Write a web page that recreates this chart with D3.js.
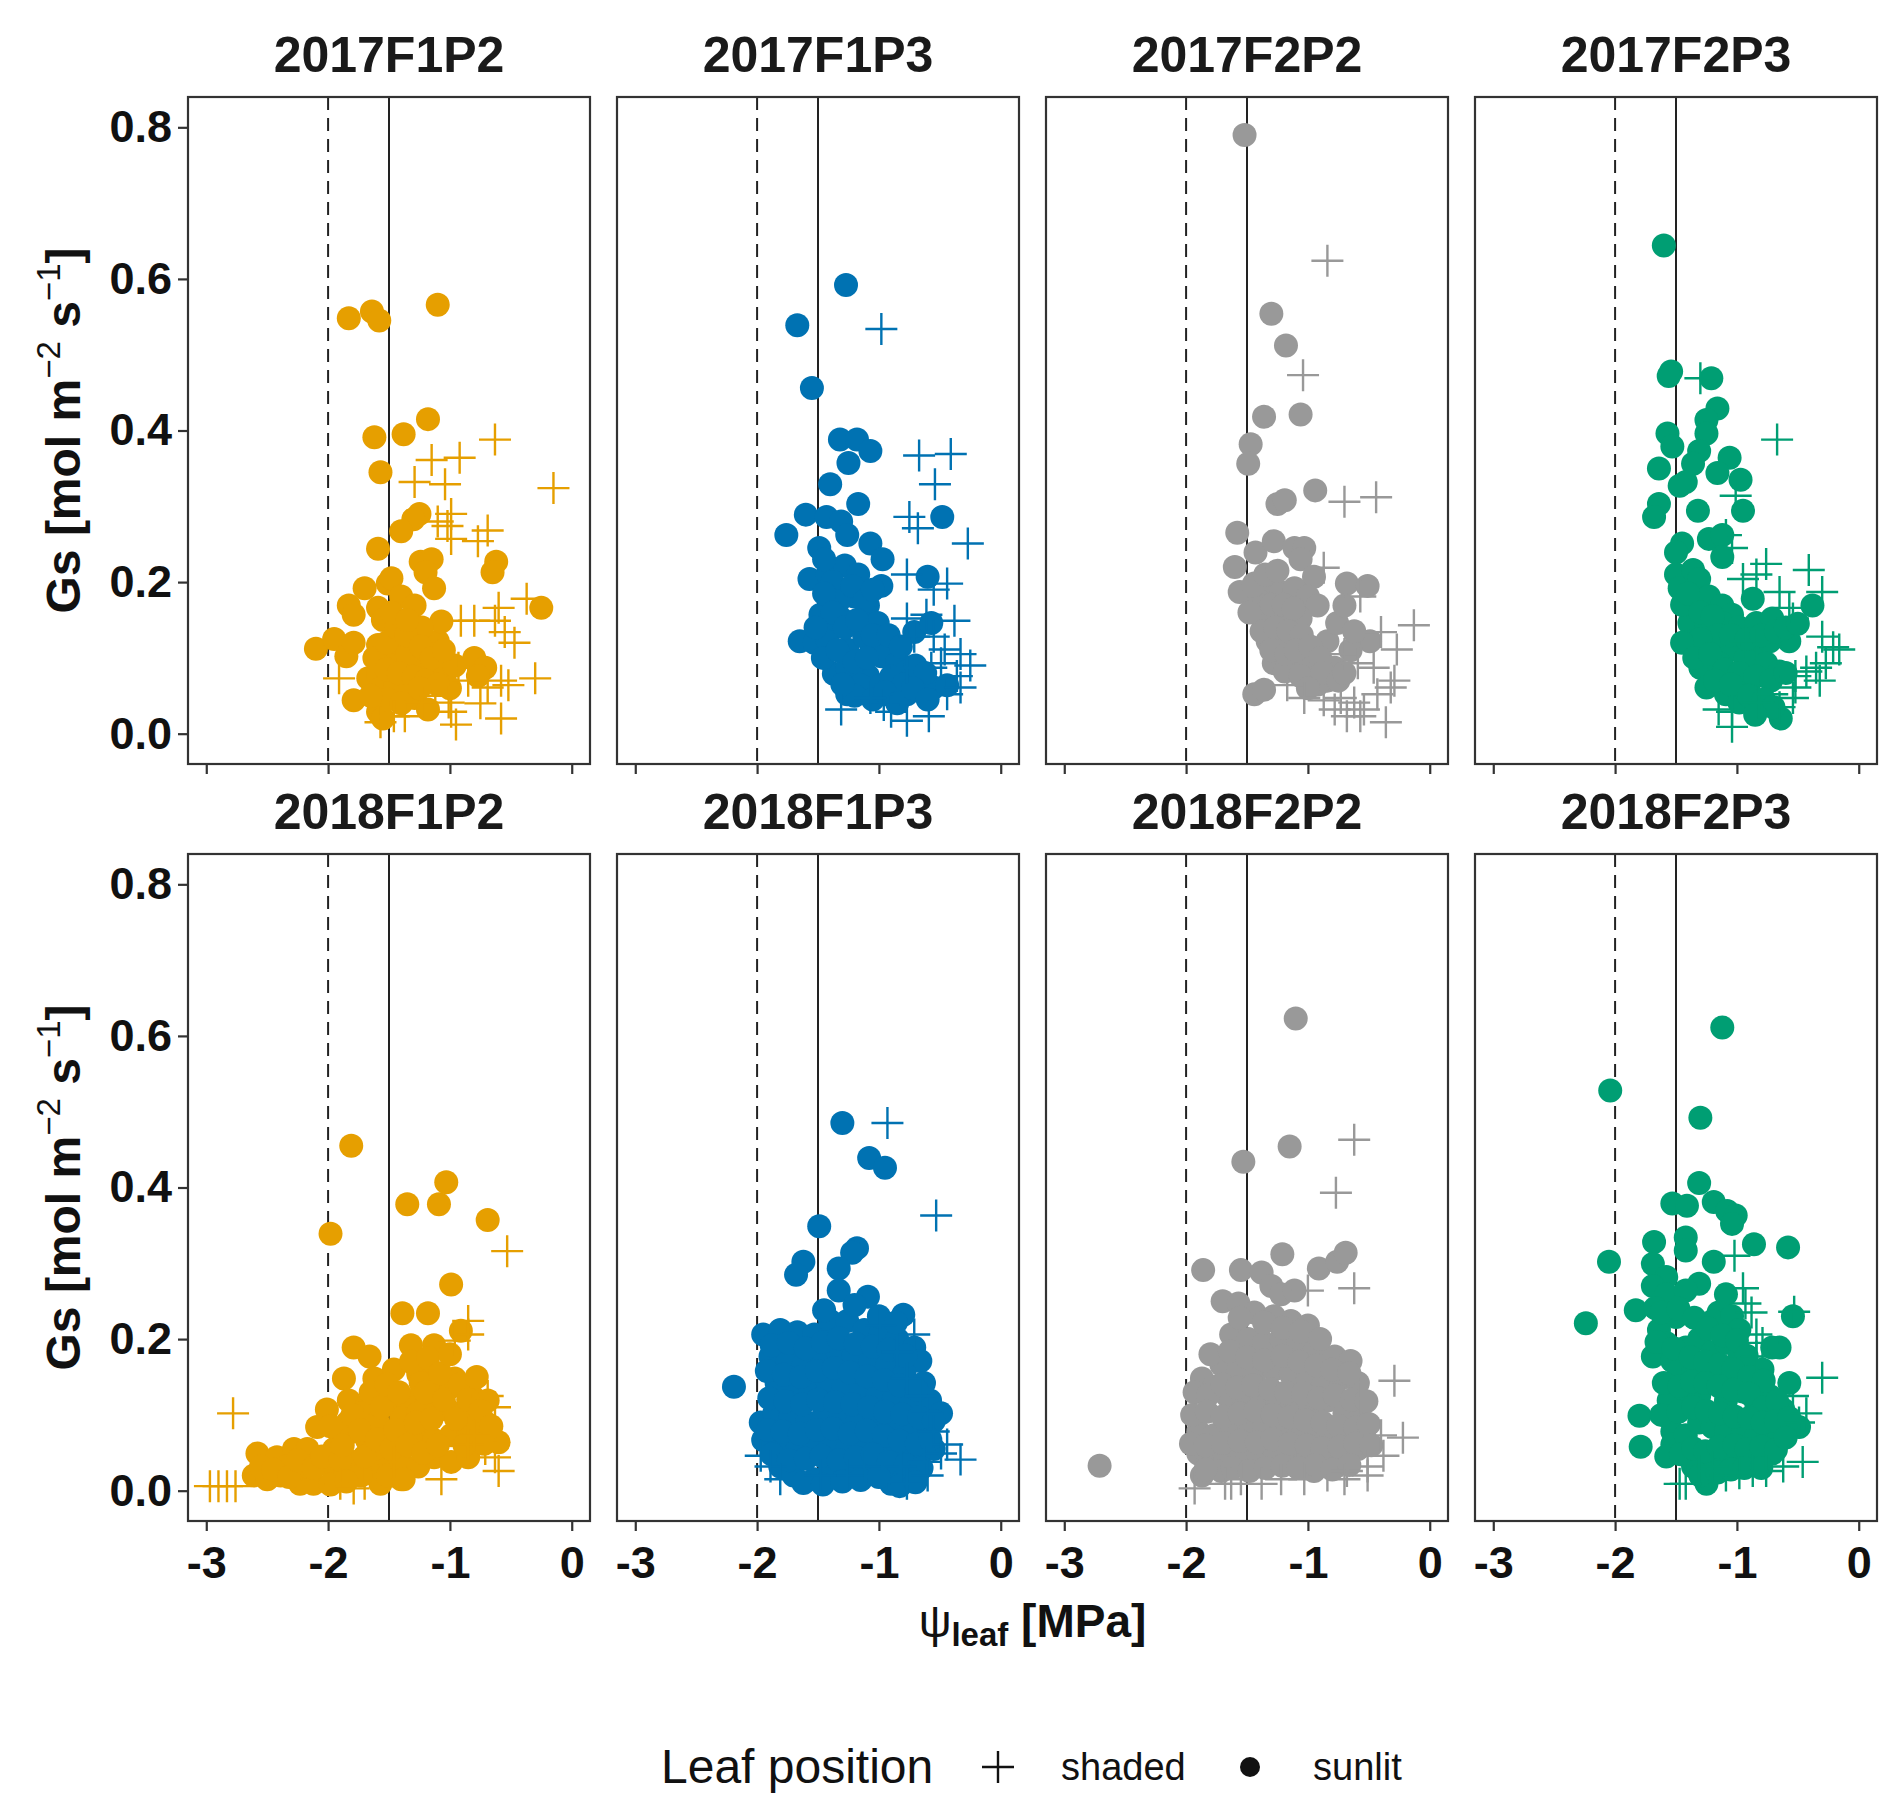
<!DOCTYPE html>
<html>
<head>
<meta charset="utf-8">
<script src="https://cdn.jsdelivr.net/npm/d3@7"></script>
<style>
  body { margin: 0; background: #fff; }
  text { font-family: "Liberation Sans", Arial, sans-serif; }
</style>
</head>
<body>
<script>
// facet titles, colours and ticks
var panelTitles = ["2017F1P2", "2017F1P3", "2017F2P2", "2017F2P3",
                   "2018F1P2", "2018F1P3", "2018F2P2", "2018F2P3"];
var panelColors = ["#E69F00", "#0072B2", "#999999", "#009E73",
                   "#E69F00", "#0072B2", "#999999", "#009E73"];
var xTicks = [-3, -2, -1, 0];
var yTicks = [0, 0.2, 0.4, 0.6, 0.8];
var refDashed = -2, refSolid = -1.5;

// [psi_leaf (MPa), Gs (mol m-2 s-1)]
var sunlit17F1P2 = [[-1.83,0.548],[-1.64,0.557],[-1.58,0.545],[-1.10,0.566],[-1.18,0.415],[-1.62,0.391],[-1.38,0.395],[-1.57,0.345],[-1.25,0.290],[-1.30,0.283],[-1.40,0.267],[-1.59,0.244],[-1.24,0.227],[-1.15,0.230],[-1.20,0.213],[-1.13,0.192],[-0.62,0.227],[-0.65,0.213],[-0.25,0.166],[-1.70,0.192],[-1.51,0.198],[-1.48,0.205],[-1.83,0.169],[-1.79,0.157],[-1.59,0.166],[-1.40,0.181],[-1.29,0.169],[-1.55,0.150],[-2.10,0.112],[-1.95,0.125],[-1.85,0.102],[-1.79,0.120],[-1.59,0.117],[-1.48,0.108],[-1.40,0.117],[-1.29,0.111],[-1.19,0.099],[-1.10,0.122],[-1.07,0.148],[-1.23,0.140],[-1.67,0.073],[-1.59,0.079],[-1.48,0.090],[-1.37,0.085],[-1.26,0.090],[-1.15,0.079],[-1.04,0.079],[-0.96,0.090],[-1.79,0.044],[-1.59,0.029],[-1.29,0.047],[-1.18,0.032],[-1.59,0.058],[-1.45,0.065],[-1.33,0.060],[-0.80,0.100],[-0.71,0.087],[-0.77,0.076],[-1.55,0.020],[-1.35,0.105],[-1.00,0.060],
  [-1.62,0.100],[-1.52,0.120],[-1.44,0.140],[-1.36,0.130],[-1.24,0.115],[-1.15,0.100],[-1.05,0.110],[-1.52,0.085],[-1.42,0.080],[-1.30,0.075],[-1.20,0.070],[-1.10,0.065],[-1.52,0.045],[-1.40,0.040],[-1.25,0.060],[-1.48,0.160],[-1.35,0.150],[-1.65,0.050]];
var shaded17F1P2 = [[-0.63,0.388],[-1.15,0.361],[-0.92,0.364],[-1.29,0.332],[-1.04,0.329],[-0.15,0.324],[-0.99,0.290],[-1.10,0.280],[-1.02,0.274],[-0.99,0.257],[-0.77,0.254],[-0.69,0.268],[-0.37,0.178],[-0.60,0.166],[-0.63,0.149],[-0.55,0.134],[-0.47,0.120],[-0.91,0.149],[-0.80,0.149],[-0.30,0.073],[-0.69,0.061],[-0.58,0.070],[-0.52,0.064],[-0.93,0.087],[-0.85,0.070],[-0.58,0.020],[-0.95,0.012],[-0.99,0.029],[-1.37,0.023],[-1.23,0.041],[-1.01,0.041],[-1.91,0.073],[-1.57,0.015],[-1.46,0.023],[-1.12,0.050],[-0.75,0.040]];

var sunlit17F1P3 = [[-1.27,0.592],[-1.67,0.539],[-1.55,0.456],[-1.32,0.388],[-1.18,0.388],[-1.07,0.373],[-1.25,0.357],[-1.40,0.329],[-1.17,0.303],[-1.60,0.289],[-1.43,0.286],[-1.31,0.280],[-1.26,0.262],[-1.76,0.262],[-1.49,0.245],[-1.07,0.251],[-0.97,0.230],[-0.48,0.286],[-0.60,0.207],[-1.57,0.204],[-1.42,0.210],[-1.28,0.222],[-1.17,0.210],[-1.20,0.181],[-0.98,0.195],[-1.48,0.157],[-1.31,0.152],[-1.39,0.140],[-1.09,0.169],[-1.01,0.146],[-1.65,0.122],[-1.53,0.120],[-1.42,0.122],[-1.26,0.111],[-1.12,0.128],[-0.98,0.117],[-1.37,0.079],[-1.26,0.087],[-1.09,0.076],[-0.98,0.102],[-0.85,0.093],[-0.77,0.082],[-0.68,0.070],[-1.26,0.052],[-1.15,0.064],[-0.98,0.064],[-0.87,0.058],[-0.77,0.052],[-0.66,0.064],[-0.55,0.061],[-0.44,0.064],[-0.71,0.134],[-0.57,0.146],
  [-1.45,0.230],[-1.38,0.200],[-1.33,0.175],[-1.22,0.195],[-1.12,0.175],[-1.05,0.190],[-1.45,0.185],[-1.38,0.160],[-1.52,0.140],[-1.28,0.140],[-1.18,0.150],[-1.05,0.130],[-0.92,0.130],[-0.82,0.115],[-1.46,0.100],[-1.34,0.110],[-1.20,0.095],[-1.10,0.100],[-0.90,0.075],[-0.80,0.065],[-0.70,0.090],[-0.62,0.080],[-1.20,0.050],[-1.05,0.045],[-0.95,0.055],[-0.85,0.040],[-0.72,0.060],[-0.60,0.045],[-1.30,0.065]];
var shaded17F1P3 = [[-0.98,0.534],[-0.67,0.367],[-0.41,0.369],[-0.54,0.329],[-0.75,0.286],[-0.68,0.271],[-0.27,0.251],[-0.77,0.210],[-0.55,0.190],[-0.44,0.198],[-0.77,0.152],[-0.61,0.157],[-0.38,0.149],[-0.71,0.128],[-0.55,0.128],[-0.46,0.111],[-0.33,0.105],[-0.25,0.090],[-0.36,0.076],[-0.49,0.093],[-1.31,0.032],[-0.96,0.038],[-0.90,0.029],[-0.77,0.017],[-0.59,0.023],[-0.44,0.052],[-0.33,0.061],[-1.07,0.047],[-0.57,0.087],[-0.77,0.087]];

var sunlit17F2P2 = [[-1.52,0.790],[-1.30,0.554],[-1.18,0.512],[-1.36,0.418],[-1.06,0.421],[-1.47,0.382],[-1.49,0.356],[-1.25,0.303],[-1.19,0.308],[-0.94,0.321],[-1.58,0.265],[-1.43,0.239],[-1.28,0.254],[-1.11,0.245],[-1.03,0.245],[-1.06,0.230],[-1.60,0.220],[-0.95,0.207],[-1.56,0.187],[-1.44,0.198],[-1.33,0.192],[-1.22,0.187],[-1.11,0.192],[-1.00,0.181],[-0.92,0.169],[-0.68,0.198],[-0.51,0.195],[-1.36,0.152],[-1.22,0.157],[-1.06,0.152],[-1.33,0.122],[-1.22,0.117],[-1.08,0.122],[-1.28,0.093],[-1.14,0.099],[-1.03,0.087],[-0.84,0.122],[-0.76,0.146],[-0.70,0.169],[-0.49,0.122],[-0.95,0.076],[-0.84,0.070],[-0.78,0.087],[-1.44,0.052],[-1.36,0.058],[-1.19,0.082],[-1.06,0.076],
  [-1.40,0.175],[-1.30,0.170],[-1.20,0.170],[-1.12,0.165],[-1.38,0.135],[-1.27,0.140],[-1.16,0.135],[-1.05,0.130],[-1.30,0.110],[-1.18,0.105],[-1.10,0.110],[-0.98,0.115],[-0.90,0.100],[-0.92,0.065],[-0.88,0.080],[-0.75,0.070],[-0.70,0.080],[-0.65,0.110],[-0.62,0.135],[-1.00,0.060],[-1.48,0.160],[-1.45,0.195],[-1.35,0.210],[-1.25,0.215]];
var shaded17F2P2 = [[-0.84,0.624],[-1.04,0.473],[-0.70,0.306],[-0.44,0.312],[-0.87,0.219],[-0.57,0.181],[-0.13,0.143],[-0.40,0.134],[-0.27,0.111],[-0.70,0.105],[-0.59,0.093],[-0.46,0.087],[-0.29,0.070],[-1.17,0.064],[-1.03,0.047],[-0.87,0.044],[-0.73,0.047],[-0.62,0.041],[-0.54,0.032],[-0.43,0.052],[-0.32,0.061],[-0.36,0.015],[-0.78,0.032],[-0.68,0.023],[-0.57,0.023]];

var sunlit17F2P3 = [[-1.60,0.644],[-1.54,0.478],[-1.56,0.472],[-1.21,0.469],[-1.16,0.429],[-1.25,0.414],[-1.25,0.396],[-1.57,0.396],[-1.53,0.379],[-1.64,0.350],[-1.31,0.373],[-1.36,0.356],[-1.42,0.332],[-1.47,0.327],[-1.06,0.364],[-1.16,0.344],[-0.97,0.335],[-1.64,0.303],[-1.68,0.286],[-1.32,0.294],[-0.95,0.294],[-1.45,0.251],[-1.50,0.239],[-1.23,0.257],[-1.12,0.262],[-1.12,0.233],[-1.50,0.210],[-1.47,0.192],[-1.36,0.216],[-1.31,0.204],[-1.36,0.175],[-1.23,0.181],[-1.12,0.169],[-1.04,0.157],[-0.87,0.178],[-1.39,0.146],[-1.25,0.140],[-1.12,0.146],[-0.98,0.140],[-0.84,0.146],[-0.71,0.152],[-0.57,0.122],[-0.38,0.169],[-1.36,0.122],[-1.20,0.117],[-1.04,0.111],[-0.87,0.111],[-0.73,0.122],[-1.30,0.087],[-1.15,0.093],[-0.93,0.099],[-0.76,0.093],[-0.65,0.082],[-1.25,0.061],[-1.09,0.052],[-0.98,0.041],[-0.93,0.058],[-0.64,0.020],
  [-1.45,0.170],[-1.40,0.185],[-1.30,0.160],[-1.20,0.155],[-1.15,0.130],[-1.30,0.125],[-1.45,0.120],[-1.05,0.130],[-0.92,0.125],[-0.80,0.130],[-0.68,0.135],[-0.60,0.140],[-0.50,0.145],[-1.35,0.100],[-1.22,0.105],[-1.10,0.085],[-0.98,0.080],[-0.85,0.075],[-0.72,0.070],[-0.60,0.080],[-1.18,0.070],[-1.05,0.065],[-0.90,0.050],[-0.78,0.045],[-0.70,0.035],[-0.85,0.025]];
var shaded17F2P3 = [[-1.30,0.469],[-0.67,0.388],[-1.01,0.314],[-1.09,0.262],[-1.04,0.245],[-0.76,0.224],[-0.84,0.210],[-0.41,0.216],[-0.30,0.187],[-0.65,0.187],[-0.57,0.166],[-0.54,0.152],[-0.95,0.204],[-0.93,0.122],[-0.84,0.117],[-0.30,0.128],[-0.21,0.114],[-0.16,0.111],[-0.27,0.093],[-0.35,0.087],[-0.43,0.082],[-0.52,0.076],[-0.32,0.070],[-1.15,0.032],[-1.04,0.029],[-0.82,0.041],[-0.71,0.052],[-0.54,0.047],[-0.65,0.035],[-0.52,0.061],[-1.04,0.009]];

var sunlit18F1P2 = [[-1.81,0.455],[-1.98,0.339],[-1.35,0.378],[-1.09,0.378],[-1.03,0.407],[-0.69,0.357],[-0.99,0.272],[-1.39,0.234],[-1.18,0.234],[-0.91,0.211],[-1.79,0.189],[-1.66,0.177],[-1.32,0.192],[-1.13,0.192],[-1.87,0.148],[-1.83,0.119],[-2.01,0.107],[-2.09,0.084],[-1.62,0.148],[-1.46,0.160],[-1.26,0.154],[-1.13,0.154],[-0.96,0.148],[-0.82,0.125],[-0.69,0.119],[-1.68,0.113],[-1.51,0.119],[-1.35,0.119],[-1.18,0.113],[-1.02,0.107],[-0.88,0.102],[-0.60,0.064],[-2.58,0.049],[-2.42,0.044],[-2.28,0.055],[-2.17,0.055],[-2.61,0.020],[-2.50,0.015],[-2.39,0.020],[-2.23,0.009],[-2.12,0.009],[-1.95,0.020],[-1.90,0.073],[-1.79,0.078],[-1.68,0.067],[-1.54,0.073],[-1.40,0.067],[-1.26,0.078],[-1.13,0.067],[-0.99,0.073],[-0.85,0.078],[-1.79,0.038],[-1.62,0.032],[-1.46,0.020],[-1.57,0.009],[-1.40,0.015],[-2.17,0.032],[-2.34,0.032],[-1.13,0.131],[-0.99,0.137],[-1.24,0.142],[-1.95,0.055],[-1.84,0.090],[-1.73,0.102],[-1.59,0.090],[-1.51,0.044],[-1.62,0.055],[-1.73,0.020],[-1.51,0.020],[-1.40,0.038],[-1.26,0.032],[-1.13,0.044],[-0.99,0.038],[-0.85,0.044],[-0.71,0.090],[-0.80,0.096],[-1.40,0.096],[-1.26,0.102],
  [-2.55,0.032],[-2.45,0.028],[-2.32,0.018],[-2.25,0.040],[-2.12,0.030],[-2.05,0.045],[-1.98,0.008],[-1.90,0.040],[-1.85,0.012],[-1.98,0.085],[-1.88,0.060],[-1.80,0.100],[-1.74,0.080],[-1.70,0.045],[-1.65,0.130],[-1.60,0.068],[-1.56,0.110],[-1.52,0.140],[-1.48,0.055],[-1.45,0.080],[-1.42,0.130],[-1.38,0.015],[-1.35,0.060],[-1.32,0.170],[-1.28,0.090],[-1.22,0.050],[-1.20,0.130],[-1.18,0.175],[-1.15,0.095],[-1.10,0.060],[-1.08,0.155],[-1.05,0.120],[-1.00,0.180],[-0.95,0.095],[-0.92,0.140],[-0.88,0.060],[-0.85,0.120],[-0.78,0.150],[-0.75,0.105],[-0.72,0.062],[-0.66,0.085]];
var shaded18F1P2 = [[-2.78,0.102],[-2.97,0.006],[-2.90,0.006],[-2.83,0.006],[-2.76,0.006],[-0.53,0.316],[-0.85,0.224],[-0.85,0.206],[-0.96,0.198],[-0.69,0.125],[-0.63,0.110],[-0.85,0.061],[-0.71,0.055],[-0.63,0.044],[-0.60,0.026],[-0.80,0.073],[-1.07,0.015],[-1.46,0.038],[-1.70,0.009],[-1.90,0.009],[-1.79,0.003]];

var sunlit18F1P3 = [[-1.30,0.485],[-1.08,0.439],[-0.95,0.426],[-1.49,0.349],[-1.18,0.320],[-1.22,0.314],[-1.62,0.302],[-1.68,0.285],[-1.33,0.293],[-1.33,0.264],[-1.09,0.256],[-2.19,0.137],[-0.80,0.232],[-1.95,0.206],[-1.81,0.212],[-1.67,0.209],[-1.53,0.206],[-1.40,0.224],[-1.26,0.224],[-1.12,0.212],[-0.99,0.206],[-0.85,0.200],[-0.71,0.189],[-0.66,0.171],[-1.89,0.177],[-1.75,0.171],[-1.62,0.166],[-1.48,0.177],[-1.34,0.183],[-1.21,0.177],[-1.07,0.171],[-0.93,0.166],[-0.79,0.154],[-0.63,0.142],[-1.84,0.142],[-1.70,0.137],[-1.56,0.131],[-1.42,0.142],[-1.29,0.137],[-1.15,0.137],[-1.01,0.125],[-0.88,0.119],[-0.74,0.113],[-0.58,0.119],[-0.49,0.102],[-1.97,0.090],[-1.86,0.102],[-1.73,0.096],[-1.59,0.090],[-1.45,0.102],[-1.32,0.096],[-1.18,0.090],[-1.04,0.090],[-0.90,0.084],[-0.77,0.078],[-0.63,0.078],[-1.95,0.067],[-1.81,0.061],[-1.67,0.055],[-1.53,0.061],[-1.40,0.067],[-1.26,0.055],[-1.12,0.067],[-0.99,0.055],[-0.85,0.049],[-0.71,0.044],[-0.55,0.055],[-1.81,0.032],[-1.70,0.020],[-1.53,0.015],[-1.40,0.032],[-1.23,0.026],[-1.07,0.032],[-0.90,0.009],[-0.79,0.020],
  [-1.88,0.192],[-1.74,0.195],[-1.60,0.188],[-1.46,0.196],[-1.33,0.201],[-1.19,0.194],[-1.05,0.190],[-0.92,0.186],[-0.78,0.178],[-1.92,0.158],[-1.78,0.153],[-1.64,0.150],[-1.51,0.158],[-1.37,0.162],[-1.24,0.156],[-1.10,0.151],[-0.96,0.146],[-0.83,0.139],[-0.69,0.133],[-1.90,0.122],[-1.77,0.118],[-1.63,0.114],[-1.50,0.120],[-1.36,0.117],[-1.22,0.114],[-1.08,0.110],[-0.95,0.104],[-0.81,0.101],[-0.67,0.097],[-0.55,0.092],[-1.91,0.080],[-1.79,0.078],[-1.65,0.075],[-1.51,0.080],[-1.38,0.082],[-1.24,0.075],[-1.10,0.079],[-0.96,0.072],[-0.83,0.066],[-0.69,0.062],[-0.58,0.068],[-1.88,0.048],[-1.74,0.040],[-1.60,0.042],[-1.47,0.046],[-1.33,0.040],[-1.19,0.044],[-1.05,0.048],[-0.92,0.038],[-0.78,0.034],[-0.65,0.030],[-1.62,0.010],[-1.46,0.008],[-1.30,0.012],[-1.15,0.014],[-1.00,0.018],[-0.83,0.006],[-0.70,0.011],[-1.45,0.238],[-1.20,0.245],[-1.00,0.230],[-0.86,0.222]];
var shaded18F1P3 = [[-0.93,0.485],[-0.53,0.363],[-0.99,0.218],[-0.71,0.206],[-0.85,0.183],[-0.77,0.148],[-0.66,0.125],[-0.60,0.102],[-0.55,0.078],[-0.44,0.061],[-0.33,0.041],[-0.49,0.049],[-0.63,0.038],[-1.97,0.046],[-1.89,0.032],[-1.81,0.015],[-0.77,0.009],[-0.60,0.020],[-0.82,0.032],[-1.12,0.032],[-1.26,0.020],[-1.48,0.020]];

var sunlit18F2P2 = [[-1.10,0.623],[-1.15,0.454],[-1.53,0.434],[-2.71,0.033],[-1.86,0.291],[-1.55,0.291],[-1.21,0.312],[-0.91,0.293],[-0.76,0.302],[-0.69,0.314],[-1.38,0.288],[-1.30,0.270],[-1.22,0.259],[-1.11,0.264],[-1.70,0.250],[-1.57,0.247],[-1.44,0.235],[-1.28,0.230],[-1.14,0.224],[-1.00,0.218],[-1.63,0.206],[-1.49,0.200],[-1.36,0.195],[-1.22,0.200],[-1.08,0.195],[-0.95,0.183],[-0.78,0.177],[-0.65,0.171],[-1.71,0.166],[-1.57,0.160],[-1.44,0.154],[-1.28,0.160],[-1.14,0.154],[-1.00,0.148],[-0.87,0.142],[-0.73,0.148],[-0.59,0.142],[-1.87,0.148],[-1.77,0.137],[-1.66,0.125],[-1.52,0.119],[-1.38,0.125],[-1.25,0.119],[-1.11,0.113],[-0.98,0.107],[-0.84,0.119],[-0.70,0.102],[-0.57,0.096],[-1.90,0.078],[-1.77,0.073],[-1.63,0.078],[-1.49,0.090],[-1.36,0.084],[-1.22,0.090],[-1.08,0.078],[-0.95,0.084],[-0.81,0.073],[-0.68,0.067],[-0.54,0.073],[-1.90,0.049],[-1.82,0.038],[-1.68,0.044],[-1.55,0.049],[-1.41,0.049],[-1.28,0.055],[-1.14,0.049],[-1.00,0.044],[-0.87,0.038],[-0.73,0.049],[-0.59,0.055],[-1.87,0.020],[-1.71,0.026],[-0.95,0.026],
  [-1.56,0.228],[-1.36,0.222],[-1.21,0.215],[-1.06,0.210],[-0.90,0.200],[-1.80,0.180],[-1.64,0.184],[-1.50,0.176],[-1.36,0.172],[-1.21,0.178],[-1.07,0.170],[-0.93,0.165],[-0.80,0.160],[-0.66,0.155],[-1.93,0.130],[-1.82,0.126],[-1.70,0.140],[-1.58,0.136],[-1.45,0.139],[-1.31,0.134],[-1.18,0.130],[-1.04,0.128],[-0.91,0.122],[-0.78,0.126],[-0.64,0.120],[-0.52,0.118],[-1.95,0.100],[-1.83,0.104],[-1.70,0.098],[-1.56,0.102],[-1.43,0.105],[-1.29,0.100],[-1.15,0.097],[-1.02,0.093],[-0.88,0.090],[-0.75,0.086],[-0.61,0.083],[-0.50,0.088],[-1.96,0.062],[-1.84,0.060],[-1.70,0.063],[-1.56,0.066],[-1.42,0.064],[-1.29,0.068],[-1.15,0.062],[-1.01,0.060],[-0.88,0.056],[-0.74,0.058],[-0.61,0.062],[-0.48,0.060],[-1.84,0.028],[-1.62,0.030],[-1.48,0.026],[-1.35,0.030],[-1.21,0.033],[-1.08,0.030],[-0.94,0.034],[-0.80,0.028],[-0.66,0.034]];
var shaded18F2P2 = [[-0.62,0.463],[-0.77,0.393],[-0.62,0.267],[-1.00,0.264],[-0.29,0.145],[-0.22,0.070],[-0.57,0.122],[-0.40,0.073],[-0.38,0.046],[-0.51,0.032],[-0.68,0.026],[-1.93,0.003],[-1.68,0.009],[-1.63,0.009],[-1.55,0.015],[-1.38,0.009],[-1.22,0.015],[-1.03,0.015],[-0.84,0.020],[-0.70,0.015],[-0.51,0.020]];

var sunlit18F2P3 = [[-1.12,0.611],[-2.04,0.528],[-1.30,0.492],[-1.31,0.406],[-1.53,0.379],[-1.41,0.376],[-1.19,0.381],[-1.08,0.369],[-1.01,0.363],[-1.04,0.352],[-1.68,0.328],[-1.42,0.334],[-1.42,0.317],[-0.86,0.325],[-0.58,0.321],[-2.05,0.302],[-1.19,0.302],[-1.69,0.299],[-1.58,0.282],[-1.69,0.270],[-1.58,0.259],[-1.31,0.273],[-1.42,0.264],[-2.24,0.221],[-1.83,0.238],[-1.67,0.241],[-1.09,0.259],[-1.15,0.235],[-1.20,0.224],[-1.04,0.230],[-0.98,0.212],[-0.54,0.230],[-1.64,0.212],[-1.58,0.195],[-1.69,0.177],[-1.53,0.171],[-1.42,0.189],[-1.31,0.200],[-1.20,0.183],[-1.09,0.195],[-0.98,0.177],[-0.71,0.189],[-0.65,0.189],[-0.79,0.160],[-0.57,0.142],[-1.56,0.119],[-1.42,0.131],[-1.31,0.125],[-1.20,0.148],[-1.09,0.119],[-0.95,0.131],[-0.84,0.113],[-0.73,0.125],[-0.62,0.107],[-0.49,0.084],[-1.80,0.099],[-1.79,0.058],[-1.53,0.078],[-1.53,0.061],[-1.42,0.073],[-1.31,0.090],[-1.20,0.084],[-1.09,0.078],[-0.95,0.084],[-0.84,0.073],[-0.73,0.067],[-0.65,0.073],[-1.25,0.009],[-1.36,0.032],[-1.20,0.038],[-1.04,0.044],[-0.87,0.044],[-0.71,0.049],[-1.50,0.229],[-1.47,0.160],[-1.36,0.160],
  [-1.62,0.235],[-1.48,0.240],[-1.35,0.228],[-1.24,0.214],[-1.12,0.205],[-1.00,0.198],[-0.92,0.178],[-1.66,0.196],[-1.52,0.188],[-1.38,0.176],[-1.26,0.170],[-1.14,0.166],[-1.03,0.160],[-0.90,0.150],[-0.78,0.145],[-1.60,0.142],[-1.47,0.138],[-1.37,0.144],[-1.26,0.142],[-1.15,0.138],[-1.03,0.133],[-0.90,0.128],[-0.78,0.110],[-0.67,0.118],[-1.62,0.100],[-1.48,0.104],[-1.36,0.110],[-1.25,0.105],[-1.14,0.102],[-1.02,0.098],[-0.90,0.096],[-0.79,0.090],[-0.68,0.092],[-0.57,0.096],[-1.58,0.045],[-1.46,0.048],[-1.36,0.056],[-1.26,0.052],[-1.15,0.058],[-1.02,0.060],[-0.92,0.055],[-0.80,0.058],[-0.68,0.054],[-0.60,0.070],[-1.30,0.020],[-1.16,0.024],[-1.05,0.028],[-0.94,0.030],[-0.80,0.030]];
var shaded18F2P3 = [[-1.02,0.310],[-0.95,0.267],[-0.88,0.235],[-0.93,0.247],[-0.53,0.236],[-0.84,0.206],[-0.79,0.195],[-0.84,0.177],[-0.30,0.149],[-0.43,0.102],[-0.49,0.090],[-0.54,0.125],[-0.46,0.038],[-0.62,0.032],[-0.76,0.026],[-0.87,0.026],[-0.98,0.023],[-1.09,0.020],[-1.20,0.032],[-1.31,0.026],[-1.42,0.009],[-1.47,0.009]];

var sunlitSets = [sunlit17F1P2, sunlit17F1P3, sunlit17F2P2, sunlit17F2P3,
                  sunlit18F1P2, sunlit18F1P3, sunlit18F2P2, sunlit18F2P3];
var shadedSets = [shaded17F1P2, shaded17F1P3, shaded17F2P2, shaded17F2P3,
                  shaded18F1P2, shaded18F1P3, shaded18F2P2, shaded18F2P3];

var W = 1892, H = 1803;
var left = 188, panelW = 402, gapX = 27;
var rowTop = [97, 854], panelH = 667;
var tickLen = 10;
var ink = "#333333";

var svg = d3.select("body").append("svg")
    .attr("width", W)
    .attr("height", H);

var x = d3.scaleLinear().domain([-3.15, 0.15]).range([0, panelW]);
var y = d3.scaleLinear().domain([-0.04, 0.84]).range([panelH, 0]);

panelTitles.forEach(function (title, i) {
    var col = i % 4, row = Math.floor(i / 4);
    var g = svg.append("g")
        .attr("transform", "translate(" + (left + col * (panelW + gapX)) + "," + rowTop[row] + ")");
    var color = panelColors[i];

    // strip title
    g.append("text")
        .attr("x", panelW / 2)
        .attr("y", -25)
        .attr("text-anchor", "middle")
        .style("font-size", "50px")
        .style("font-weight", "bold")
        .style("fill", "#1a1a1a")
        .text(title);

    // x axis (labels only on the bottom row)
    var xa = g.append("g")
        .attr("transform", "translate(0," + panelH + ")")
        .call(d3.axisBottom(x).tickValues(xTicks).tickSize(tickLen).tickPadding(15)
            .tickFormat(row === 1 ? function (d) { return String(d); } : ""));
    xa.select(".domain").remove();
    xa.selectAll("line").attr("stroke", ink).attr("stroke-width", 2.2);
    xa.selectAll("text")
        .style("font-size", "45px")
        .style("font-weight", "bold")
        .style("font-family", "'Liberation Sans', Arial, sans-serif")
        .attr("fill", "#111");

    // y axis only on the first column
    if (col === 0) {
        var ya = g.append("g")
            .call(d3.axisLeft(y).tickValues(yTicks).tickSize(tickLen).tickPadding(6)
                .tickFormat(d3.format(".1f")));
        ya.select(".domain").remove();
        ya.selectAll("line").attr("stroke", ink).attr("stroke-width", 2.2);
        ya.selectAll("text")
            .style("font-size", "45px")
            .style("font-weight", "bold")
            .style("font-family", "'Liberation Sans', Arial, sans-serif")
            .attr("fill", "#111");
    }

    var plot = g.append("g");

    // reference lines
    plot.append("line")
        .attr("x1", x(refDashed)).attr("x2", x(refDashed))
        .attr("y1", 0).attr("y2", panelH)
        .attr("stroke", "#222").attr("stroke-width", 2)
        .attr("stroke-dasharray", "13,8");
    plot.append("line")
        .attr("x1", x(refSolid)).attr("x2", x(refSolid))
        .attr("y1", 0).attr("y2", panelH)
        .attr("stroke", "#222").attr("stroke-width", 2);

    // sunlit: filled circles
    plot.selectAll("circle")
        .data(sunlitSets[i])
        .enter()
        .append("circle")
        .attr("cx", function (d) { return x(d[0]); })
        .attr("cy", function (d) { return y(d[1]); })
        .attr("r", 12)
        .attr("fill", color);

    // shaded: plus signs
    plot.selectAll("path.cross")
        .data(shadedSets[i])
        .enter()
        .append("path")
        .attr("class", "cross")
        .attr("d", function (d) {
            var cx = x(d[0]), cy = y(d[1]), s = 16;
            return "M" + (cx - s) + "," + cy + "H" + (cx + s) +
                   "M" + cx + "," + (cy - s) + "V" + (cy + s);
        })
        .attr("stroke", color)
        .attr("stroke-width", 2.4)
        .attr("fill", "none");

    // panel border
    g.append("rect")
        .attr("width", panelW)
        .attr("height", panelH)
        .attr("fill", "none")
        .attr("stroke", ink)
        .attr("stroke-width", 2.2);
});

// y axis titles
rowTop.forEach(function (top) {
    var t = svg.append("text")
        .attr("transform", "translate(80," + (top + panelH / 2) + ") rotate(-90)")
        .attr("text-anchor", "middle")
        .style("font-size", "48px")
        .style("font-weight", "bold")
        .style("fill", "#111");
    t.append("tspan").text("Gs [mol m");
    t.append("tspan").attr("dy", -20).style("font-size", "33px").style("font-weight", "normal").text("\u22122");
    t.append("tspan").attr("dy", 20).text(" s");
    t.append("tspan").attr("dy", -20).style("font-size", "33px").style("font-weight", "normal").text("\u22121");
    t.append("tspan").attr("dy", 20).text("]");
});

// x axis title
var xt = svg.append("text")
    .attr("x", left + (4 * panelW + 3 * gapX) / 2)
    .attr("y", 1637)
    .attr("text-anchor", "middle")
    .style("fill", "#111");
xt.append("tspan").style("font-size", "46px").text("\u03c8");
xt.append("tspan").attr("dy", 9).style("font-size", "33px").style("font-weight", "bold").text("leaf");
xt.append("tspan").attr("dy", -9).style("font-size", "46px").style("font-weight", "bold").text(" [MPa]");

// legend
var leg = svg.append("g");
leg.append("text")
    .attr("x", 661).attr("y", 1783)
    .style("font-size", "48px")
    .style("fill", "#111")
    .text("Leaf position");
leg.append("path")
    .attr("d", "M982,1767H1014M998,1751V1783")
    .attr("stroke", "#111").attr("stroke-width", 2.4);
leg.append("text")
    .attr("x", 1061).attr("y", 1780)
    .style("font-size", "38px")
    .style("fill", "#111")
    .text("shaded");
leg.append("circle")
    .attr("cx", 1250).attr("cy", 1767).attr("r", 10)
    .attr("fill", "#111");
leg.append("text")
    .attr("x", 1313).attr("y", 1780)
    .style("font-size", "38px")
    .style("fill", "#111")
    .text("sunlit");
</script>
</body>
</html>
